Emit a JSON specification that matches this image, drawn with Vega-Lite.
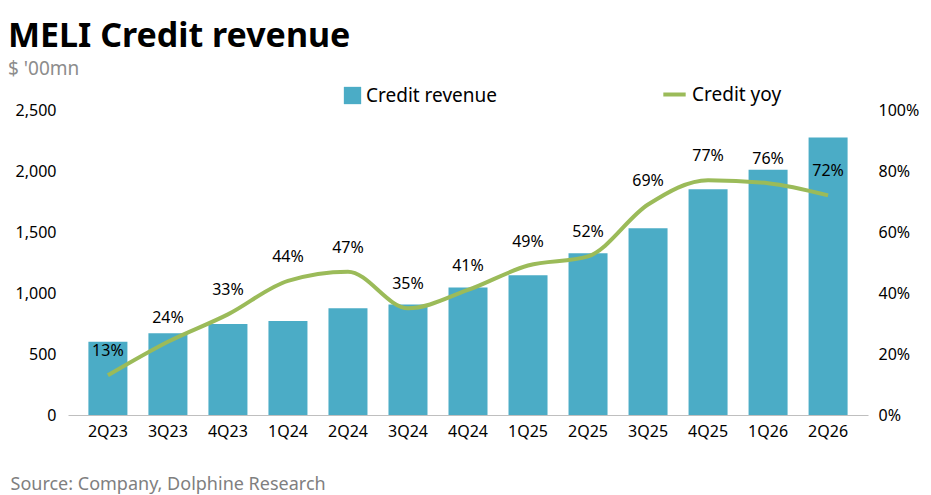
{
  "$schema": "https://vega.github.io/schema/vega-lite/v6.json",
  "autosize": "none",
  "width": 800,
  "height": 305,
  "padding": {"left": 68, "top": 110, "right": 63, "bottom": 80},
  "background": "white",
  "config": {"font": "Noto Sans", "view": {"stroke": null}},
  "title": {
    "text": "MELI Credit revenue",
    "subtitle": "$ '00mn",
    "anchor": "start",
    "frame": "group",
    "dx": -60,
    "offset": 2,
    "fontSize": 34,
    "fontWeight": "bold",
    "color": "black",
    "subtitleFontSize": 19,
    "subtitleColor": "#8c8c8c",
    "subtitlePadding": 6
  },
  "data": {
    "values": [
      {"q": "2Q23", "rev": 600, "yoy": 0.13},
      {"q": "3Q23", "rev": 670, "yoy": 0.24},
      {"q": "4Q23", "rev": 745, "yoy": 0.33},
      {"q": "1Q24", "rev": 770, "yoy": 0.44},
      {"q": "2Q24", "rev": 875, "yoy": 0.47},
      {"q": "3Q24", "rev": 905, "yoy": 0.35},
      {"q": "4Q24", "rev": 1045, "yoy": 0.41},
      {"q": "1Q25", "rev": 1145, "yoy": 0.49},
      {"q": "2Q25", "rev": 1325, "yoy": 0.52},
      {"q": "3Q25", "rev": 1530, "yoy": 0.69},
      {"q": "4Q25", "rev": 1850, "yoy": 0.77},
      {"q": "1Q26", "rev": 2010, "yoy": 0.76},
      {"q": "2Q26", "rev": 2275, "yoy": 0.72}
    ]
  },
  "encoding": {
    "x": {
      "field": "q",
      "type": "nominal",
      "sort": null,
      "scale": {"paddingInner": 0.35, "paddingOuter": 0.34},
      "axis": {
        "labelAngle": 0,
        "labelFontSize": 16,
        "labelColor": "black",
        "ticks": false,
        "domainColor": "#bfbfbf",
        "labelPadding": 8,
        "title": "Source:  Company,  Dolphine Research",
        "titleFontSize": 18,
        "titleFontWeight": "normal",
        "titleColor": "#7f7f7f",
        "titleAnchor": "start",
        "titleAlign": "left",
        "titleX": -58,
        "titleY": 60
      }
    }
  },
  "layer": [
    {
      "mark": {"type": "bar", "color": "#4BACC6"},
      "encoding": {
        "y": {
          "field": "rev",
          "type": "quantitative",
          "scale": {"domain": [0, 2500]},
          "axis": {
            "title": null,
            "values": [0, 500, 1000, 1500, 2000, 2500],
            "format": ",.0f",
            "grid": false,
            "ticks": false,
            "domain": false,
            "labelFontSize": 16,
            "labelColor": "black",
            "labelPadding": 12
          }
        },
        "color": {
          "datum": "Credit revenue",
          "scale": {"range": ["#4BACC6"]},
          "legend": {
            "orient": "none",
            "legendX": 275,
            "legendY": -24,
            "title": null,
            "symbolType": "square",
            "symbolSize": 300,
            "labelFontSize": 19,
            "labelColor": "black"
          }
        }
      }
    },
    {
      "layer": [
        {
          "mark": {"type": "line", "interpolate": "monotone", "strokeWidth": 4, "color": "#9BBB59"},
          "encoding": {
            "stroke": {
              "datum": "Credit yoy",
              "scale": {"range": ["#9BBB59"]},
              "legend": {
                "orient": "none",
                "legendX": 593,
                "legendY": -29,
                "title": null,
                "symbolType": "stroke",
                "symbolStrokeWidth": 4,
                "symbolSize": 500,
                "labelFontSize": 19,
                "labelColor": "black"
              }
            }
          }
        },
        {
          "mark": {"type": "text", "dy": -24, "fontSize": 16, "color": "black"},
          "encoding": {"text": {"field": "yoy", "format": ".0%"}}
        }
      ],
      "encoding": {
        "y": {
          "field": "yoy",
          "type": "quantitative",
          "scale": {"domain": [0, 1]},
          "axis": {
            "orient": "right",
            "title": null,
            "format": ".0%",
            "values": [0, 0.2, 0.4, 0.6, 0.8, 1],
            "grid": false,
            "ticks": false,
            "domain": false,
            "labelFontSize": 16,
            "labelColor": "black",
            "labelPadding": 10
          }
        }
      }
    }
  ],
  "resolve": {"scale": {"y": "independent"}}
}
